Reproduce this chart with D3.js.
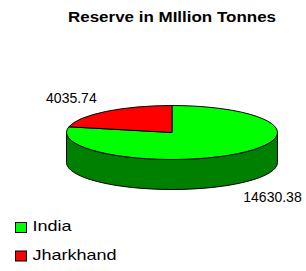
<!DOCTYPE html>
<html lang="en">
<head>
<meta charset="utf-8">
<title>Reserve in Million Tonnes</title>
<script src="https://cdn.jsdelivr.net/npm/d3@7"></script>
<style>
  body { margin: 0; background: #fff; }
  svg { display: block; font-family: Arial, "Liberation Sans", sans-serif; }
</style>
</head>
<body>
<script>
var categories = ["India", "Jharkhand"];
var values = [14630.38, 4035.74];
var colors = ["#00ff00", "#ff0000"];
var sideColors = ["#008000", "#800000"];

var w = 306, h = 271;
var cx = 172, cy = 132.5, rx = 105.5, ry = 27, depth = 30;

var svg = d3.select("body").append("svg")
  .attr("width", w)
  .attr("height", h);

//title
svg.append("text")
  .attr("x", cx)
  .attr("y", 22)
  .attr("text-anchor", "middle")
  .attr("font-size", "14.5px")
  .attr("font-weight", "bold")
  .attr("textLength", 208)
  .attr("lengthAdjust", "spacingAndGlyphs")
  .text("Reserve in MIllion Tonnes");

var pie = d3.pie().sort(null);
var arcs = pie(values);

function pt(a, dy) {
  return [cx + rx * Math.sin(a), cy - ry * Math.cos(a) + (dy || 0)];
}

//side walls (front half only)
arcs.forEach(function(d, i) {
  var a0 = Math.max(d.startAngle, Math.PI / 2);
  var a1 = Math.min(d.endAngle, Math.PI * 3 / 2);
  if (a1 <= a0) return;
  var p0 = pt(a0), p1 = pt(a1), q1 = pt(a1, depth), q0 = pt(a0, depth);
  var path = "M" + p0 + "A" + rx + "," + ry + " 0 0 1 " + p1 +
    "L" + q1 + "A" + rx + "," + ry + " 0 0 0 " + q0 + "Z";
  svg.append("path")
    .attr("d", path)
    .attr("fill", sideColors[i])
    .attr("stroke", "#000")
    .attr("stroke-width", 1);
});

//top face
svg.selectAll("path.top")
  .data(arcs)
  .enter()
  .append("path")
  .attr("class", "top")
  .attr("d", function(d) {
    var p0 = pt(d.startAngle), p1 = pt(d.endAngle);
    var large = d.endAngle - d.startAngle > Math.PI ? 1 : 0;
    return "M" + cx + "," + cy + "L" + p0 +
      "A" + rx + "," + ry + " 0 " + large + " 1 " + p1 + "Z";
  })
  .attr("fill", function(d, i) { return colors[i]; })
  .attr("stroke", "#000")
  .attr("stroke-width", 1);

//value labels
svg.selectAll("text.val")
  .data(arcs)
  .enter()
  .append("text")
  .attr("class", "val")
  .attr("font-size", "14px")
  .attr("text-anchor", function(d) {
    var m = (d.startAngle + d.endAngle) / 2;
    return Math.sin(m) < 0 ? "end" : "start";
  })
  .attr("x", function(d) {
    var m = (d.startAngle + d.endAngle) / 2;
    return cx + (rx + 8) * Math.sin(m) + (Math.sin(m) < 0 ? -4 : 0);
  })
  .attr("y", function(d) {
    var m = (d.startAngle + d.endAngle) / 2;
    var c = Math.cos(m);
    return cy - (ry + 17) * c + (c < 0 ? depth : 0) + 5;
  })
  .text(function(d) { return d.value.toFixed(2); });

//legend
var legend = svg.selectAll("g.leg")
  .data(categories)
  .enter()
  .append("g")
  .attr("class", "leg")
  .attr("transform", function(d, i) { return "translate(15," + (222 + i * 28.5) + ")"; });

legend.append("rect")
  .attr("x", 0.5)
  .attr("y", 0.5)
  .attr("width", 11)
  .attr("height", 10)
  .attr("fill", function(d, i) { return colors[i]; })
  .attr("stroke", "#000")
  .attr("stroke-width", 1);

legend.append("text")
  .attr("x", 17.5)
  .attr("y", 9)
  .attr("font-size", "15px")
  .attr("textLength", function(d, i) { return i === 0 ? 39 : 84; })
  .attr("lengthAdjust", "spacingAndGlyphs")
  .text(function(d) { return d; });
</script>
</body>
</html>
